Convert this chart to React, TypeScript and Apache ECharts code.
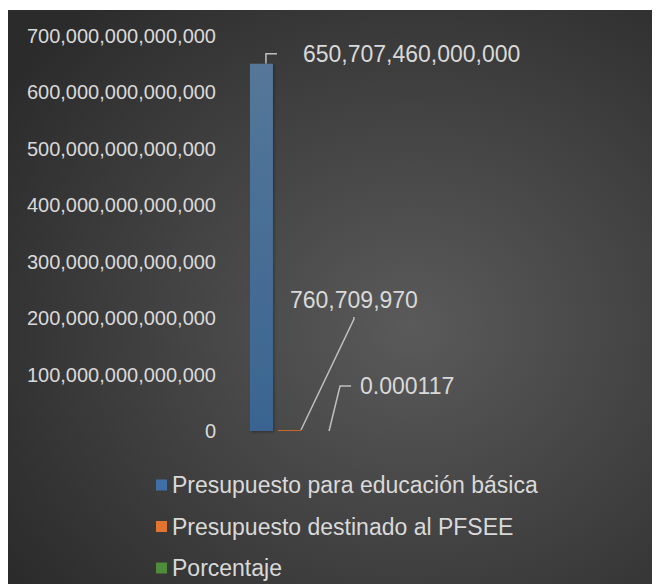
import React, { useEffect, useRef } from "react";
import * as echarts from "echarts";

const categories = [""];
const seriesNames = [
  "Presupuesto para educación básica",
  "Presupuesto destinado al PFSEE",
  "Porcentaje",
];
const educacionBasica = [650707460000000];
const destinadoPFSEE = [760709970];
const porcentaje = [0.000117];
const yTicks = { min: 0, max: 700000000000000, interval: 100000000000000 };

const TEXT = "#d9d9d9";
const FONT = "'Liberation Sans', Arial, sans-serif";

function fmt(v: number): string {
  if (Math.abs(v) < 1) return String(v);
  return v.toLocaleString("en-US");
}

export default function App() {
  const ref = useRef<HTMLDivElement>(null);
  useEffect(() => {
    if (!ref.current) return;
    const chart = echarts.init(ref.current, undefined, { renderer: "svg" });
    const labelBase = {
      show: true,
      color: TEXT,
      fontSize: 23,
      fontFamily: FONT,
      backgroundColor: "rgba(0,0,0,0)",
      formatter: (p: any) => fmt(p.value),
    };
    const lineStyle = { color: "#bfbfbf", width: 1.5 };
    chart.setOption({
      animation: false,
      backgroundColor: new echarts.graphic.RadialGradient(0.62, 0.55, 0.75, [
        { offset: 0, color: "#5a5a5a" },
        { offset: 1, color: "#2b2b2b" },
      ]),
      textStyle: { fontFamily: FONT },
      grid: { left: 217, top: 26, width: 131, height: 395 },
      xAxis: {
        type: "category",
        data: categories,
        axisLine: { show: false },
        axisTick: { show: false },
        axisLabel: { show: false },
      },
      yAxis: {
        type: "value",
        min: yTicks.min,
        max: yTicks.max,
        interval: yTicks.interval,
        axisLine: { show: false },
        axisTick: { show: false },
        splitLine: { show: false },
        axisLabel: {
          color: TEXT,
          fontSize: 20,
          fontFamily: FONT,
          margin: 8,
          formatter: (v: number) => fmt(v),
        },
      },
      legend: {
        orient: "vertical",
        left: 144,
        top: 457,
        itemWidth: 11,
        itemHeight: 11,
        itemGap: 15.5,
        icon: "rect",
        textStyle: { color: TEXT, fontSize: 23, fontFamily: FONT, lineHeight: 26 },
        data: [
          { name: seriesNames[0], itemStyle: { color: "#3f6fa6" } },
          { name: seriesNames[1], itemStyle: { color: "#e27432" } },
          { name: seriesNames[2], itemStyle: { color: "#4e8b3b" } },
        ],
      },
      series: [
        {
          name: seriesNames[0],
          type: "bar",
          data: educacionBasica,
          barWidth: 23,
          barGap: "22%",
          itemStyle: {
            color: new echarts.graphic.LinearGradient(0, 0, 0, 1, [
              { offset: 0, color: "#557799" },
              { offset: 1, color: "#3a6491" },
            ]),
            shadowColor: "rgba(0,0,0,0.35)",
            shadowBlur: 3,
            shadowOffsetX: 1,
            shadowOffsetY: 1,
          },
          label: { ...labelBase, padding: [0, 0, 0, 26] },
          labelLine: { show: true, length2: 11, lineStyle },
          labelLayout: (p: any) => ({
            x: p.rect.x + p.rect.width + 4,
            y: p.rect.y - 10,
            align: "left",
            verticalAlign: "middle",
          }),
        },
        {
          name: seriesNames[1],
          type: "bar",
          data: destinadoPFSEE,
          barWidth: 23,
          barGap: "22%",
          barMinHeight: 1,
          itemStyle: { color: "#c8672c" },
          label: { ...labelBase, padding: [0, 0, 6, 0] },
          labelLine: { show: true, length2: 2, lineStyle },
          labelLayout: (p: any) => ({
            x: p.rect.x + 12,
            y: p.rect.y + p.rect.height - 114,
            align: "left",
            verticalAlign: "bottom",
          }),
        },
        {
          name: seriesNames[2],
          type: "bar",
          data: porcentaje,
          barWidth: 23,
          barGap: "22%",
          itemStyle: { color: "#4e8b3b" },
          label: { ...labelBase, padding: [0, 0, 0, 9] },
          labelLine: { show: true, length2: 11, lineStyle },
          labelLayout: (p: any) => ({
            x: p.rect.x + 45,
            y: p.rect.y + p.rect.height - 45,
            align: "left",
            verticalAlign: "middle",
          }),
        },
      ],
    });
    return () => chart.dispose();
  }, []);
  return (
    <div
      ref={ref}
      style={{ width: 653, height: 576, position: "relative", left: -1, top: 2 }}
    />
  );
}
